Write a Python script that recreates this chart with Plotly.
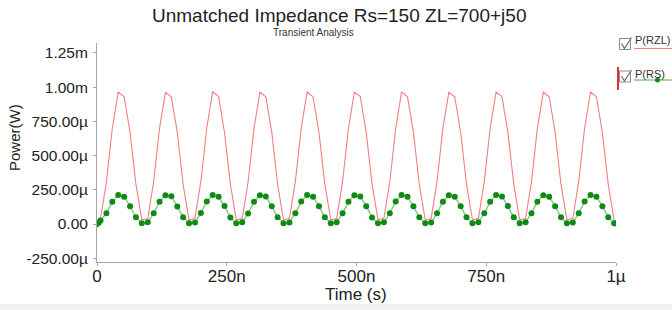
import plotly.graph_objects as go

# ---------------- data ----------------
time_ns = [
    0.0, 3.4, 6.8, 18.2, 29.5, 40.9, 52.3, 63.7, 75.0, 86.4,
    97.8, 109.2, 120.5, 131.9, 143.3, 154.7, 166.0, 177.4, 188.8, 200.2,
    211.5, 222.9, 234.3, 245.7, 257.0, 268.4, 279.8, 291.2, 302.5, 313.9,
    325.3, 336.7, 348.0, 359.4, 370.8, 382.2, 393.5, 404.9, 416.3, 427.7,
    439.0, 450.4, 461.8, 473.2, 484.5, 495.9, 507.3, 518.7, 530.0, 541.4,
    552.8, 564.2, 575.5, 586.9, 598.3, 609.7, 621.0, 632.4, 643.8, 655.2,
    666.5, 677.9, 689.3, 700.7, 712.0, 723.4, 734.8, 746.2, 757.5, 768.9,
    780.3, 791.7, 803.0, 814.4, 825.8, 837.2, 848.5, 859.9, 871.3, 882.7,
    894.0, 905.4, 916.8, 928.2, 939.5, 950.9, 962.3, 973.7, 985.0, 996.4,
    1000.0,
]

p_rzl_mw = [
    0.000, 0.006, 0.040, 0.310, 0.700,
    0.965, 0.930, 0.670, 0.290, 0.030, 0.040, 0.310, 0.700,
    0.962, 0.928, 0.672, 0.288, 0.028, 0.042, 0.312, 0.702,
    0.966, 0.931, 0.668, 0.291, 0.031, 0.039, 0.309, 0.699,
    0.963, 0.929, 0.671, 0.289, 0.029, 0.041, 0.311, 0.701,
    0.965, 0.930, 0.669, 0.290, 0.030, 0.040, 0.310, 0.700,
    0.964, 0.932, 0.670, 0.292, 0.030, 0.041, 0.309, 0.698,
    0.966, 0.929, 0.671, 0.289, 0.029, 0.040, 0.311, 0.701,
    0.963, 0.930, 0.669, 0.290, 0.031, 0.039, 0.310, 0.700,
    0.965, 0.931, 0.670, 0.291, 0.030, 0.040, 0.310, 0.699,
    0.964, 0.930, 0.671, 0.289, 0.029, 0.041, 0.311, 0.700,
    0.965, 0.930, 0.670, 0.290, 0.030,
    0.020,
]

p_rs_mw = [
    0.000, 0.010, 0.025, 0.078, 0.163,
    0.212, 0.200, 0.130, 0.049, 0.005, 0.012, 0.078, 0.163,
    0.210, 0.202, 0.128, 0.050, 0.006, 0.011, 0.080, 0.165,
    0.212, 0.199, 0.131, 0.048, 0.005, 0.012, 0.077, 0.162,
    0.211, 0.201, 0.129, 0.050, 0.006, 0.011, 0.079, 0.164,
    0.212, 0.200, 0.130, 0.049, 0.005, 0.012, 0.078, 0.163,
    0.210, 0.201, 0.130, 0.048, 0.005, 0.012, 0.079, 0.164,
    0.212, 0.200, 0.129, 0.049, 0.006, 0.011, 0.078, 0.163,
    0.211, 0.200, 0.130, 0.050, 0.005, 0.012, 0.078, 0.162,
    0.212, 0.201, 0.131, 0.049, 0.005, 0.012, 0.079, 0.163,
    0.211, 0.200, 0.130, 0.049, 0.006, 0.011, 0.078, 0.164,
    0.212, 0.200, 0.130, 0.049, 0.005,
    0.004,
]

series_names = ["P(RZL)", "P(RS)"]
x_tick_vals_ns = [0, 250, 500, 750, 1000]
x_tick_text = ["0", "250n", "500n", "750n", "1\u00b5"]
y_tick_vals_uw = [-250, 0, 250, 500, 750, 1000, 1250]
y_tick_text = ["-250.00\u00b5", "0.00", "250.00\u00b5", "500.00\u00b5",
               "750.00\u00b5", "1.00m", "1.25m"]

title_text = "Unmatched Impedance Rs=150 ZL=700+j50"
subtitle_text = "Transient Analysis"
x_title = "Time (s)"
y_title = "Power(W)"

# ---------------- conversions ----------------
t_s = [v * 1e-9 for v in time_ns]
rzl_w = [v * 1e-3 for v in p_rzl_mw]
rs_w = [v * 1e-3 for v in p_rs_mw]

# ---------------- layout geometry ----------------
W, H = 672, 310
L, R, T, B = 97, 56, 43, 48
PW, PH = W - L - R, H - T - B

def px(x):
    return (x - L) / PW

def py(y):
    return (H - B - y) / PH

FONT = "Liberation Sans, Arial, Helvetica, sans-serif"
RED = "#f27f7f"
GREEN_LINE = "#8cc98c"
GREEN_DOT = "#0f8a14"
AXIS = "#a6a6a6"

fig = go.Figure()
fig.add_trace(go.Scatter(x=t_s, y=rzl_w, mode="lines", name=series_names[0],
                         line=dict(color=RED, width=1.1), showlegend=False))
fig.add_trace(go.Scatter(x=t_s, y=rs_w, mode="lines+markers", name=series_names[1],
                         line=dict(color=GREEN_LINE, width=1.5),
                         marker=dict(color=GREEN_DOT, size=6), showlegend=False))

fig.update_xaxes(range=[0, 1e-6], tickvals=[v * 1e-9 for v in x_tick_vals_ns],
                 ticktext=x_tick_text, showgrid=False, zeroline=False,
                 showline=True, linecolor=AXIS, linewidth=1,
                 ticks="outside", ticklen=3, tickcolor=AXIS,
                 ticklabelstandoff=-4,
                 tickfont=dict(family=FONT, size=17, color="#222"))
fig.update_yaxes(range=[-0.2778e-3, 1.323e-3],
                 tickvals=[v * 1e-6 for v in y_tick_vals_uw],
                 ticktext=y_tick_text, showgrid=False, zeroline=False,
                 showline=True, linecolor=AXIS, linewidth=1,
                 ticks="outside", ticklen=3, tickcolor=AXIS,
                 ticklabelstandoff=2,
                 tickfont=dict(family=FONT, size=15.5, color="#222"))

ann = []
ann.append(dict(text=title_text, x=px(338.5), y=py(16), xref="paper", yref="paper",
                showarrow=False, xanchor="center", yanchor="middle",
                font=dict(family=FONT, size=19, color="#222")))
ann.append(dict(text=subtitle_text, x=px(313), y=py(33), xref="paper", yref="paper",
                showarrow=False, xanchor="center", yanchor="middle",
                font=dict(family=FONT, size=10, color="#333")))
ann.append(dict(text=x_title, x=px(356), y=py(294), xref="paper", yref="paper",
                showarrow=False, xanchor="center", yanchor="middle",
                font=dict(family=FONT, size=17, color="#222")))
ann.append(dict(text=y_title, x=px(14), y=py(138), xref="paper", yref="paper",
                showarrow=False, xanchor="center", yanchor="middle", textangle=-90,
                font=dict(family=FONT, size=15, color="#222")))
# custom legend labels
ann.append(dict(text=series_names[0], x=px(633), y=py(32), xref="paper", yref="paper",
                showarrow=False, xanchor="left", yanchor="top",
                font=dict(family=FONT, size=11, color="#333")))
ann.append(dict(text=series_names[1], x=px(633), y=py(66), xref="paper", yref="paper",
                showarrow=False, xanchor="left", yanchor="top",
                font=dict(family=FONT, size=11, color="#333")))

shapes = []
# bottom grey band
shapes.append(dict(type="rect", xref="paper", yref="paper", x0=px(0), x1=px(W),
                   y0=py(305), y1=py(H), fillcolor="#f2f2f2", line=dict(width=0),
                   layer="below"))
shapes.append(dict(type="line", xref="paper", yref="paper", x0=px(0), x1=px(W),
                   y0=py(305), y1=py(305), line=dict(color="#e6e6e6", width=1)))

def checkbox(x0, y0, size=11):
    out = [dict(type="rect", xref="paper", yref="paper", x0=px(x0), x1=px(x0 + size),
                y0=py(y0 + size), y1=py(y0), line=dict(color="#8a8a8a", width=1),
                fillcolor="rgba(0,0,0,0)")]
    path = "M {} {} L {} {} L {} {}".format(
        px(x0 + 2), py(y0 + 5), px(x0 + 5), py(y0 + 10), px(x0 + size + 1), py(y0 - 1))
    out.append(dict(type="path", xref="paper", yref="paper", path=path,
                    line=dict(color="#707070", width=1.2)))
    return out

shapes += checkbox(619.5, 38.5)
shapes += checkbox(619.5, 71)
shapes.append(dict(type="line", xref="paper", yref="paper", x0=px(634), x1=px(672),
                   y0=py(48.5), y1=py(48.5), line=dict(color=RED, width=1.2)))
shapes.append(dict(type="line", xref="paper", yref="paper", x0=px(634), x1=px(672),
                   y0=py(80), y1=py(80), line=dict(color=GREEN_LINE, width=1.5)))
shapes.append(dict(type="circle", xref="paper", yref="paper", x0=px(655), x1=px(660),
                   y0=py(77.5), y1=py(82.5), fillcolor=GREEN_DOT,
                   line=dict(color=GREEN_DOT, width=0)))
shapes.append(dict(type="line", xref="paper", yref="paper", x0=px(618), x1=px(618),
                   y0=py(67), y1=py(90), line=dict(color="#e23030", width=2)))

fig.update_layout(width=W, height=H, margin=dict(l=L, r=R, t=T, b=B),
                  paper_bgcolor="white", plot_bgcolor="white",
                  annotations=ann, shapes=shapes, showlegend=False,
                  hovermode=False)

fig.write_html("out.html", config={"displayModeBar": False},
               post_script="document.body.style.margin='0';document.body.style.padding='0';")
